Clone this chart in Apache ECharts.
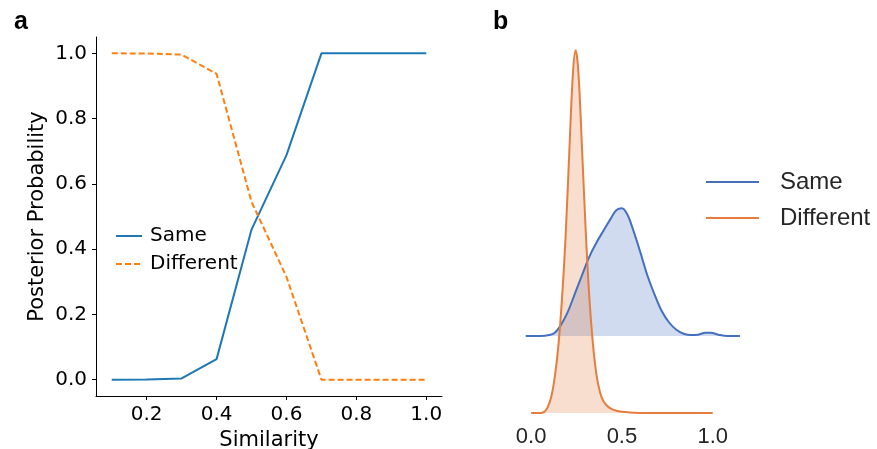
<!DOCTYPE html>
<html>
<head>
<meta charset="utf-8">
<script src="https://cdn.jsdelivr.net/npm/echarts@6/dist/echarts.min.js"></script>
<style>
  html, body { margin: 0; padding: 0; background: #fff; }
  #main { width: 877px; height: 449px; }
</style>
</head>
<body>
<div id="main"></div>
<script>
// panel a: posterior probability vs similarity
var similarity = [0.1, 0.2, 0.3, 0.4, 0.5, 0.6, 0.7, 0.8, 0.9, 1.0];
var probSame = [0.0, 0.0005, 0.004, 0.063, 0.46, 0.688, 1.0, 1.0, 1.0, 1.0];
var probDiff = [1.0, 0.9995, 0.996, 0.937, 0.545, 0.315, 0.0, 0.0, 0.0, 0.0];
var ticksA_x = [0.2, 0.4, 0.6, 0.8, 1.0];
var ticksA_y = [0.0, 0.2, 0.4, 0.6, 0.8, 1.0];

// panel b: density ridges (x, density)
var sameX = [-0.03, 0.05, 0.10, 0.13, 0.16, 0.20, 0.24, 0.28, 0.32, 0.36, 0.40, 0.44, 0.47, 0.50, 0.53, 0.56, 0.60, 0.64, 0.68, 0.72, 0.76, 0.80, 0.84, 0.88, 0.92, 0.96, 0.99, 1.03, 1.08, 1.15];
var sameY = [0, 0, 0.02, 0.07, 0.22, 0.52, 0.93, 1.35, 1.76, 2.08, 2.35, 2.62, 2.80, 2.84, 2.70, 2.38, 1.88, 1.35, 0.92, 0.55, 0.30, 0.14, 0.05, 0.02, 0.03, 0.07, 0.07, 0.03, 0.0, 0];
var diffX = [0.0, 0.05, 0.07, 0.09, 0.11, 0.13, 0.15, 0.17, 0.19, 0.21, 0.23, 0.245, 0.26, 0.28, 0.30, 0.32, 0.34, 0.36, 0.38, 0.40, 0.43, 0.47, 0.52, 0.60, 1.0];
var diffY = [0, 0, 0.02, 0.12, 0.35, 0.80, 1.50, 2.55, 3.95, 5.80, 7.55, 8.07, 7.60, 5.90, 4.10, 2.60, 1.55, 0.85, 0.45, 0.25, 0.12, 0.05, 0.02, 0.0, 0.0];
var ticksB_x = [0.0, 0.5, 1.0];

var colSameA = '#1f77b4', colDiffA = '#ff7f0e';
var colSameB = '#4470BE', colDiffB = '#E57D3F';

function pairs(xs, ys) {
  return xs.map(function (x, i) { return [x, ys[i]]; });
}

var chart = echarts.init(document.getElementById('main'));
var fontA = 'DejaVu Sans';
var fontB = 'Liberation Sans';

var option = {
  animation: false,
  backgroundColor: '#fff',
  title: [
    { text: 'a', left: 9, top: 5, textStyle: { fontSize: 25, fontWeight: 'bold', color: '#000', fontFamily: fontB } },
    { text: 'b', left: 488, top: 5, textStyle: { fontSize: 25, fontWeight: 'bold', color: '#000', fontFamily: fontB } }
  ],
  legend: [
    {
      orient: 'vertical', left: 110, top: 221, itemWidth: 26, itemHeight: 14, itemGap: 8,
      itemStyle: { opacity: 0 },
      textStyle: { fontSize: 20, fontFamily: fontA, color: '#000', padding: [0, 0, 0, 3] },
      data: ['Same', 'Different']
    },
    {
      orient: 'vertical', left: 701, top: 164, itemWidth: 53, itemHeight: 2, itemGap: 10,
      textStyle: { fontSize: 24, lineHeight: 26, fontFamily: fontB, color: '#262626', padding: [0, 0, 0, 16] },
      data: [
        { name: 'Same', icon: 'rect', itemStyle: { color: colSameB } },
        { name: 'Different', icon: 'rect', itemStyle: { color: colDiffB } }
      ]
    }
  ],
  grid: [
    { left: 96, right: 435, top: 37, bottom: 53, outerBoundsMode: 'none' },
    { left: 513, right: 128, top: 156, bottom: 113, outerBoundsMode: 'none' },
    { left: 513, right: 128, top: 31, bottom: 36, outerBoundsMode: 'none' }
  ],
  xAxis: [
    {
      gridIndex: 0, type: 'value', min: 0.055, max: 1.045,
      name: 'Similarity', nameLocation: 'middle', nameGap: 29,
      nameTextStyle: { fontSize: 21, fontFamily: fontA, color: '#000' },
      axisLine: { onZero: false, lineStyle: { color: '#000', width: 1 } },
      axisTick: { show: true, length: 4, customValues: ticksA_x, lineStyle: { color: '#000' } },
      axisLabel: { fontSize: 20, fontFamily: fontA, color: '#000', margin: 9, customValues: ticksA_x,
        formatter: function (v) { return v.toFixed(1); } },
      splitLine: { show: false }
    },
    {
      gridIndex: 1, type: 'value', min: -0.1, max: 1.2, show: false
    },
    {
      gridIndex: 2, type: 'value', min: -0.1, max: 1.2,
      axisLine: { show: false }, axisTick: { show: false },
      axisLabel: { fontSize: 22, fontFamily: fontB, color: '#262626', margin: 13, customValues: ticksB_x,
        formatter: function (v) { return v.toFixed(1); } },
      splitLine: { show: false }
    }
  ],
  yAxis: [
    {
      gridIndex: 0, type: 'value', min: -0.05, max: 1.05,
      name: 'Posterior Probability', nameLocation: 'middle', nameGap: 48,
      nameTextStyle: { fontSize: 21, fontFamily: fontA, color: '#000' },
      axisLine: { show: true, onZero: false, lineStyle: { color: '#000', width: 1 } },
      axisTick: { show: true, length: 4, customValues: ticksA_y, lineStyle: { color: '#000' } },
      axisLabel: { fontSize: 20, fontFamily: fontA, color: '#000', margin: 9, customValues: ticksA_y,
        formatter: function (v) { return v.toFixed(1); } },
      splitLine: { show: false }
    },
    { gridIndex: 1, type: 'value', min: 0, max: 4, show: false },
    { gridIndex: 2, type: 'value', min: 0, max: 8.5, show: false }
  ],
  series: [
    {
      name: 'Same', type: 'line', xAxisIndex: 0, yAxisIndex: 0, symbol: 'none',
      lineStyle: { color: colSameA, width: 2 }, itemStyle: { color: colSameA },
      data: pairs(similarity, probSame)
    },
    {
      name: 'Different', type: 'line', xAxisIndex: 0, yAxisIndex: 0, symbol: 'none',
      lineStyle: { color: colDiffA, width: 2, type: [6, 3] }, itemStyle: { color: colDiffA },
      data: pairs(similarity, probDiff)
    },
    {
      name: 'Same', type: 'line', xAxisIndex: 1, yAxisIndex: 1, symbol: 'none', smooth: 0.35,
      lineStyle: { color: colSameB, width: 2 }, itemStyle: { color: colSameB },
      areaStyle: { color: colSameB, opacity: 0.25 },
      data: pairs(sameX, sameY)
    },
    {
      name: 'Different', type: 'line', xAxisIndex: 2, yAxisIndex: 2, symbol: 'none', smooth: 0.35,
      lineStyle: { color: colDiffB, width: 2 }, itemStyle: { color: colDiffB },
      areaStyle: { color: colDiffB, opacity: 0.25 },
      data: pairs(diffX, diffY)
    }
  ]
};
chart.setOption(option);
</script>
</body>
</html>
